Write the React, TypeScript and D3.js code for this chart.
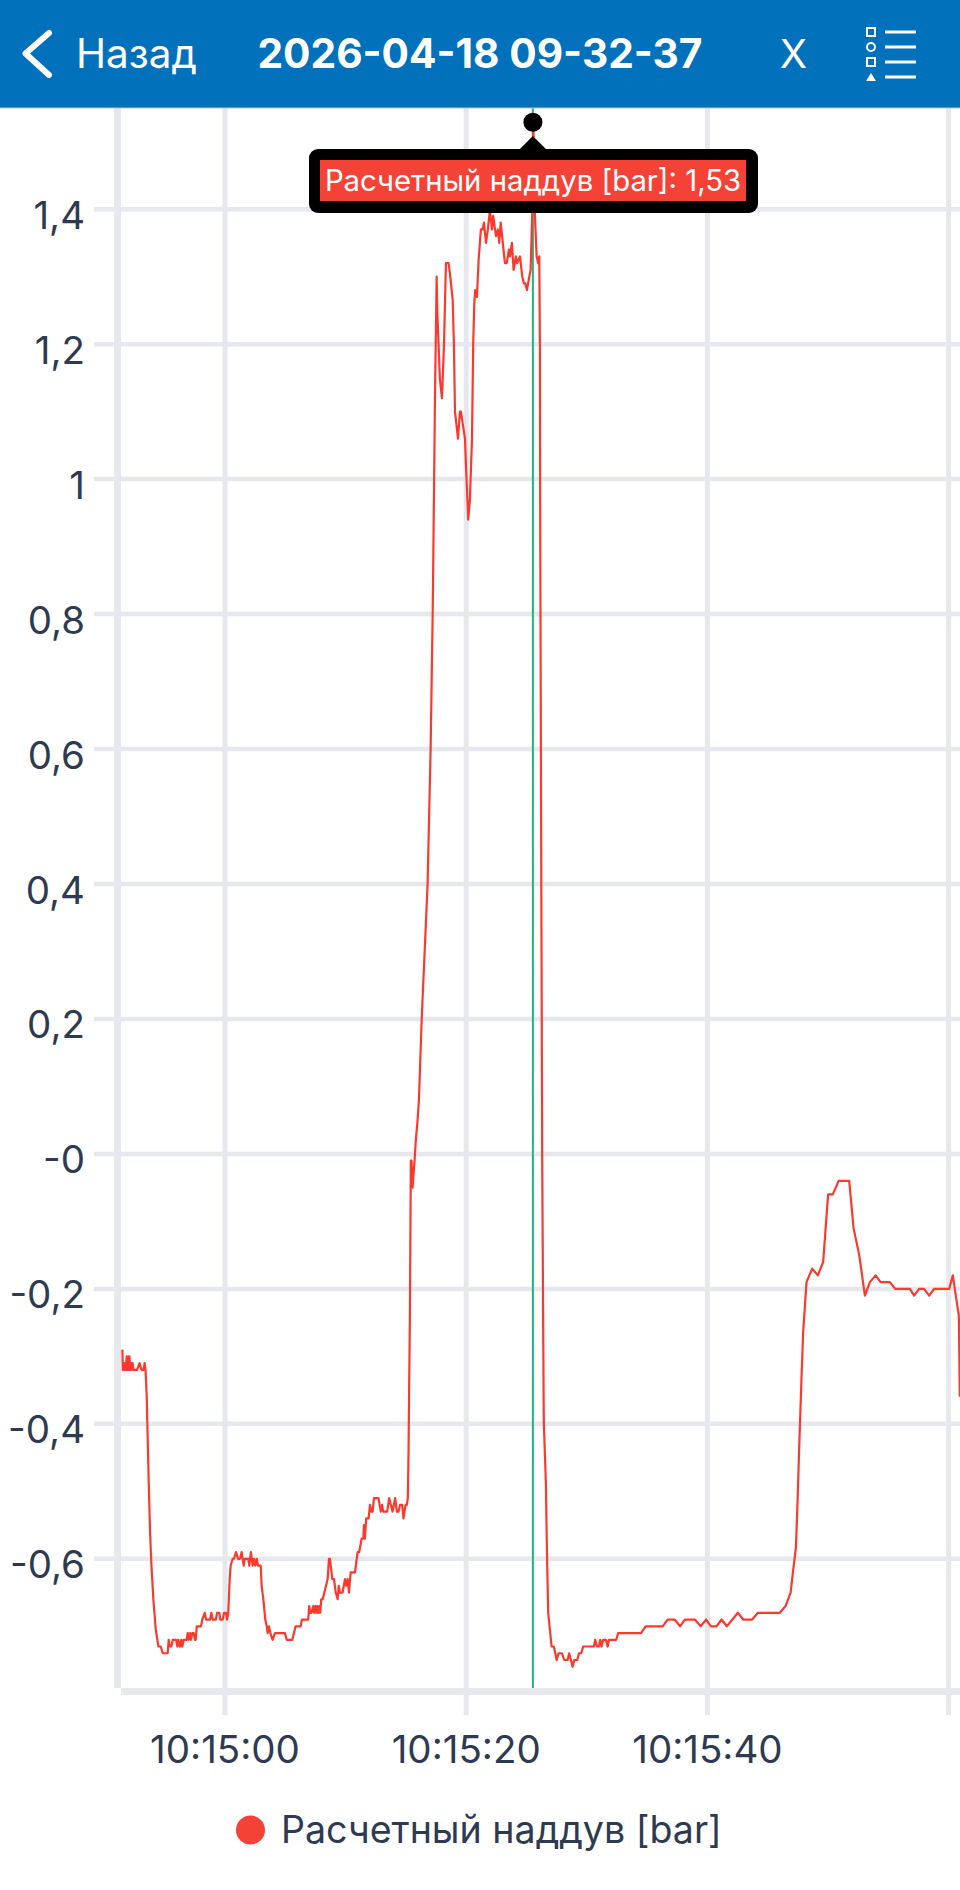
import React from "react";
import * as d3 from "d3";

const W = 960;
const H = 1890;
const SERIES_NAME = "Расчетный наддув [bar]";
const TITLE = "2026-04-18 09-32-37";
const CURSOR_SECOND = 25.53;
const CURSOR_VALUE = 1.53;
const CURSOR_LABEL = "Расчетный наддув [bar]: 1,53";

const yTicks = [1.4, 1.2, 1, 0.8, 0.6, 0.4, 0.2, 0, -0.2, -0.4, -0.6];
const yTickLabels = ["1,4", "1,2", "1", "0,8", "0,6", "0,4", "0,2", "-0", "-0,2", "-0,4", "-0,6"];
const xTicks = [0, 20, 40, 60];
const xTickLabels = ["10:15:00", "10:15:20", "10:15:40", ""];

const idle: [number, number][] = [
  [-8.51,-.29],[-8.47,-.32],[-8.40,-.31],[-8.34,-.32],[-8.28,-.31],[-8.22,-.32],[-8.15,-.30],[-8.09,-.32],[-8.03,-.30],[-7.97,-.32],
  [-7.92,-.30],[-7.86,-.32],[-7.79,-.31],[-7.73,-.32],[-7.66,-.31],[-7.60,-.32],[-7.29,-.32],[-7.09,-.31],[-6.92,-.32],[-6.76,-.32],
  [-6.66,-.31],[-6.59,-.32],[-6.49,-.36],[-6.44,-.40],[-6.32,-.49],[-6.21,-.563],[-6.10,-.61],[-5.94,-.66],[-5.74,-.705],[-5.52,-.73],
  [-5.33,-.73],[-5.16,-.74],[-4.75,-.74],[-4.67,-.72],[-4.58,-.73],[-4.45,-.73],[-4.33,-.72],[-4.06,-.72],[-3.95,-.73],[-3.87,-.72],
  [-3.73,-.73],[-3.62,-.72],[-3.54,-.73],[-3.42,-.72],[-3.18,-.72],[-3.09,-.71],[-3.01,-.72],[-2.90,-.71],[-2.82,-.72],[-2.71,-.71],
  [-2.59,-.71],[-2.49,-.72],[-2.43,-.72],[-2.34,-.70],[-1.99,-.70],[-1.88,-.69],[-1.68,-.68],[-1.57,-.69],[-1.24,-.69],[-1.13,-.68],
  [-1.02,-.69],[-.75,-.69],[-.66,-.68],[-.47,-.68],[-.39,-.69],[-.19,-.69],[-.08,-.68],[.08,-.68],[.17,-.69],[.27,-.68],
];

const firstBump: [number, number][] = [
  [.39,-.63],[.47,-.61],[.64,-.60],[.75,-.60],[.91,-.59],[1.08,-.60],[1.24,-.60],[1.38,-.59],[1.55,-.61],[1.63,-.60],
  [1.93,-.60],[2.01,-.61],[2.15,-.59],[2.29,-.61],[2.40,-.60],[2.51,-.61],[2.63,-.60],[2.73,-.61],[2.96,-.61],[3.04,-.64],
  [3.18,-.66],[3.34,-.69],[3.46,-.70],[3.54,-.71],[3.65,-.70],[3.76,-.71],[3.95,-.72],[4.14,-.71],[4.97,-.71],[5.11,-.72],
  [5.58,-.72],
];

const slowClimb: [number, number][] = [
  [5.85,-.70],[6.27,-.70],[6.38,-.69],[6.90,-.69],[6.98,-.67],[7.07,-.68],[7.18,-.68],[7.32,-.67],[7.40,-.68],[7.48,-.67],
  [7.57,-.68],[7.65,-.67],[7.73,-.68],[7.82,-.67],[7.90,-.68],[7.98,-.66],[8.10,-.66],[8.51,-.63],[8.62,-.60],[8.70,-.60],
  [8.90,-.63],[9.04,-.63],[9.18,-.65],[9.34,-.66],[9.43,-.64],[9.53,-.65],[9.75,-.65],[9.95,-.63],[10.05,-.64],[10.17,-.63],
  [10.28,-.65],[10.42,-.62],[10.78,-.62],[10.92,-.60],[11.0,-.59],[11.13,-.59],[11.33,-.57],[11.47,-.57],[11.52,-.55],[11.60,-.57],
  [11.71,-.54],[11.91,-.54],[12.02,-.52],[12.13,-.53],[12.24,-.53],[12.35,-.51],[12.73,-.51],[12.82,-.52],[12.92,-.53],[13.03,-.52],
  [13.12,-.53],[13.45,-.53],[13.61,-.51],[13.75,-.52],[13.89,-.53],[14.11,-.51],[14.25,-.53],[14.39,-.53],[14.52,-.52],[14.69,-.52],
  [14.80,-.54],[14.97,-.52],[15.08,-.52],[15.16,-.51],
];

const fullBoost: [number, number][] = [
  [15.22,-.44],[15.27,-.345],[15.33,-.245],[15.41,-.01],[15.47,-.01],[15.55,-.05],[15.72,-.01],[15.82,.02],[15.97,.05],[16.08,.08],
  [16.31,.20],[16.80,.40],[17.05,.60],[17.22,.80],[17.27,.88],[17.34,1.0],[17.41,1.12],[17.55,1.30],[17.60,1.25],[17.82,1.148],
  [17.99,1.12],[18.16,1.2],[18.32,1.32],[18.54,1.32],[18.65,1.305],[18.88,1.266],[18.98,1.2],[19.07,1.10],[19.32,1.06],[19.48,1.10],
  [19.56,1.10],[19.90,1.06],[19.98,1.02],[20.17,.94],[20.31,.97],[20.48,1.06],[20.58,1.2],[20.67,1.26],[20.75,1.28],[20.89,1.27],
  [21.03,1.325],[21.22,1.37],[21.36,1.37],[21.47,1.38],[21.64,1.35],[21.80,1.37],[21.97,1.40],[22.13,1.37],[22.24,1.39],[22.47,1.36],
  [22.63,1.37],[22.74,1.35],[22.86,1.38],[23.21,1.32],[23.36,1.32],[23.54,1.34],[23.63,1.33],[23.79,1.35],[23.93,1.31],[24.12,1.33],
  [24.23,1.32],[24.46,1.33],[24.65,1.30],[24.79,1.29],[24.90,1.29],[25.04,1.28],[25.23,1.30],[25.34,1.31],[25.47,1.39],[25.57,1.53],
  [25.70,1.39],[25.84,1.33],[25.97,1.32],[26.06,1.33],[26.11,1.20],[26.14,.92],[26.21,.5],[26.30,0],[26.42,-.365],[26.44,-.40],
  [26.61,-.49],[26.67,-.563],[26.72,-.612],[26.80,-.68],
];

const coasting: [number, number][] = [
  [27.08,-.73],[27.27,-.73],[27.50,-.75],[27.66,-.74],[27.94,-.74],[28.13,-.75],[28.41,-.75],[28.54,-.74],[28.82,-.76],[28.96,-.75],
  [29.21,-.75],[29.35,-.74],[29.54,-.74],[29.70,-.73],[30.59,-.73],[30.70,-.72],[30.84,-.73],[31.0,-.73],[31.11,-.72],[31.23,-.73],
  [31.36,-.72],[31.58,-.72],[31.73,-.73],[31.83,-.72],[32.44,-.72],[32.60,-.71],[34.49,-.71],[34.88,-.70],[36.29,-.70],[36.70,-.69],
  [37.28,-.69],[37.74,-.70],[38.13,-.69],[38.96,-.69],[39.44,-.70],[39.90,-.69],[40.29,-.70],[40.76,-.70],[41.18,-.69],[41.61,-.70],
  [42.53,-.68],[42.97,-.69],[43.71,-.69],[44.19,-.68],[46.01,-.68],[46.48,-.67],[46.90,-.65],
];

const lastRise: [number, number][] = [
  [47.11,-.617],[47.34,-.583],[47.48,-.513],[47.61,-.436],[47.81,-.328],[47.94,-.264],[48.22,-.19],[48.69,-.17],[49.16,-.18],[49.60,-.16],
  [50.01,-.06],[50.40,-.06],[50.88,-.04],[51.76,-.04],[52.12,-.11],[52.59,-.15],[53.06,-.21],[53.47,-.19],[53.95,-.18],[54.36,-.19],
  [55.13,-.19],[55.57,-.20],[56.79,-.20],[57.14,-.21],[57.56,-.20],[57.97,-.20],[58.39,-.21],[58.80,-.20],[60.05,-.20],[60.35,-.18],
  [60.85,-.24],[60.93,-.36],
];

const boost = [...idle, ...firstBump, ...slowClimb, ...fullBoost, ...coasting, ...lastRise];

const FONT = "Inter, Roboto, sans-serif";
const TEXT = "#2e3a50";
const GRID = "#e6e8ee";
const RED = "#f44336";
const LINE = "#fb3a2e";
const GREEN = "#1fb482";
const BLUE = "#0171bb";

const x = d3.scaleLinear().domain([0, 60]).range([225, 948.6]);
const y = d3.scaleLinear().domain([1.4, -0.6]).range([209.2, 1558.8]);
const path = d3.line<[number, number]>().x((d) => x(d[0])).y((d) => y(d[1]))(boost) as string;

export default function App() {
  const cx = x(CURSOR_SECOND);
  const cy = y(CURSOR_VALUE);
  return (
    <svg
      width={W}
      height={H}
      viewBox={`0 0 ${W} ${H}`}
      style={{ position: "absolute", left: 0, top: 0, display: "block", background: "#fff" }}
      fontFamily={FONT}
    >
      {yTicks.map((t) => (
        <line key={t} x1={94} x2={W} y1={y(t)} y2={y(t)} stroke={GRID} strokeWidth={4.5} />
      ))}
      {xTicks.map((t) => (
        <line key={t} x1={x(t)} x2={x(t)} y1={108} y2={1715} stroke={GRID} strokeWidth={5} />
      ))}
      <rect x={114} y={108} width={7} height={1580} fill={GRID} />
      <rect x={121} y={1688} width={W - 121} height={7} fill={GRID} />

      {yTicks.map((t, i) => (
        <text key={t} x={85} y={y(t) + 19.5} textAnchor="end" fontSize={38.5} fill={TEXT}>
          {yTickLabels[i]}
        </text>
      ))}
      {xTicks.map((t, i) => (
        <text key={t} x={x(t)} y={1763} textAnchor="middle" fontSize={38.5} fill={TEXT}>
          {xTickLabels[i]}
        </text>
      ))}

      <line x1={cx} x2={cx} y1={108} y2={1688} stroke={GREEN} strokeWidth={2} />
      <path d={path} fill="none" stroke={LINE} strokeWidth={2.2} strokeLinejoin="round" />

      <circle cx={cx} cy={cy + 0.7} r={9.5} fill="#000" />
      <path d={`M${cx - 14},150 L${cx},136 L${cx + 14},150 Z`} fill="#000" />
      <rect x={309} y={149} width={449} height={64} rx={9} fill="#000" />
      <rect x={320} y={160} width={426} height={41} fill={RED} />
      <text x={533} y={191} textAnchor="middle" fontSize={29.3} fill="#fff">
        {CURSOR_LABEL}
      </text>

      <rect x={0} y={0} width={W} height={108} fill={BLUE} />
      <line x1={0} x2={W} y1={108} y2={108} stroke="#b9c3cc" strokeWidth={1} />
      <path d="M49,33 L25.5,53.5 L49,75" fill="none" stroke="#fff" strokeWidth={6} strokeLinecap="round" strokeLinejoin="round" />
      <text x={76} y={68} fontSize={40.5} fill="#fff">Назад</text>
      <text x={480} y={68} textAnchor="middle" fontSize={40.7} fontWeight={700} fill="#fff">{TITLE}</text>
      <text x={793.5} y={68} textAnchor="middle" fontSize={40} fill="#fff">X</text>
      {[32, 47, 62, 77].map((ly) => (
        <rect key={ly} x={885} y={ly - 1.5} width={31} height={3} fill="#fff" />
      ))}
      <rect x={867} y={28} width={8} height={8} fill="none" stroke="#fff" strokeWidth={2} />
      <circle cx={871} cy={47} r={4} fill="none" stroke="#fff" strokeWidth={2} />
      <rect x={867} y={58} width={8} height={8} fill="none" stroke="#fff" strokeWidth={2} />
      <path d="M871,73 L876,81 L866,81 Z" fill="#fff" />

      <circle cx={250.5} cy={1830} r={14.5} fill={RED} />
      <text x={281} y={1843} fontSize={37.6} fill={TEXT}>{SERIES_NAME}</text>
    </svg>
  );
}
